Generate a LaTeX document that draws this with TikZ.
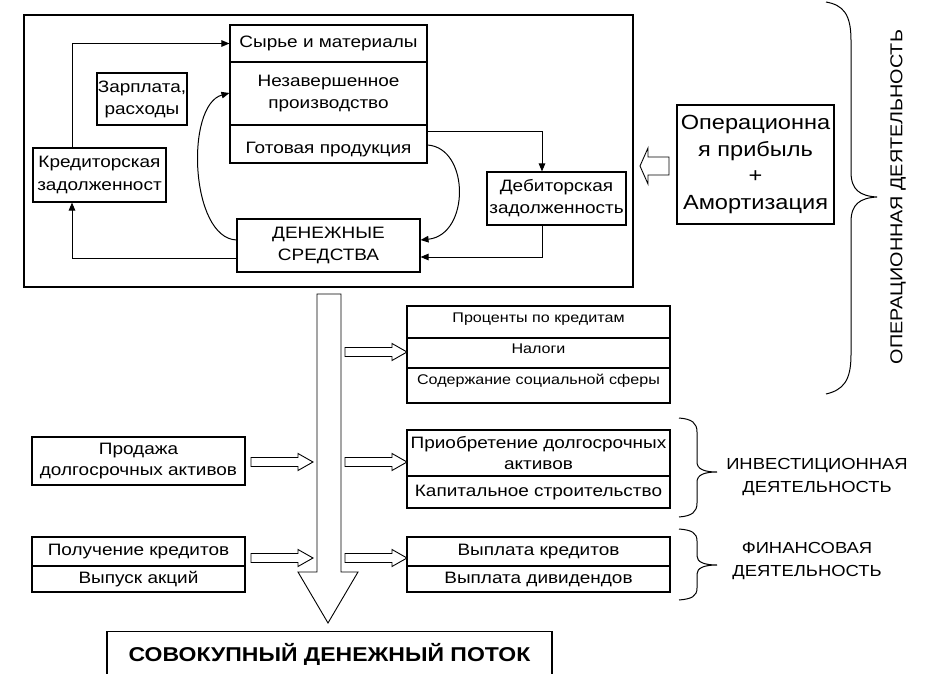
\documentclass[tikz,border=0pt]{standalone}
\usepackage{fontspec}
\setmainfont[FakeStretch=1.15]{Liberation Sans}
\usetikzlibrary{arrows.meta,calc}
\newcommand{\fs}[2]{\fontsize{#1}{#2}\selectfont}
\tikzset{
  box/.style={draw, line width=1.1pt, inner sep=0pt, align=center, font=\fs{16.5}{22}},
  one/.style={text height=12pt, text depth=3.5pt},
  cell/.style={box, minimum width=263pt},
  lcell/.style={box, minimum width=213pt},
  conn/.style={line width=1pt, -{Triangle[length=8pt,width=6.5pt]}},
  hollow/.style={draw, line width=0.9pt, fill=white},
  brace/.style={line width=1pt},
  lab/.style={align=center, font=\fs{16}{23.5}, inner sep=0pt}
}
\begin{document}
\begin{tikzpicture}[x=1pt,y=-1pt]
\useasboundingbox (0,0) rectangle (940,674);
% frame
\draw[line width=1.2pt] (24,15) rectangle (633,287);
% top stack
\node[box, one, minimum width=197pt, minimum height=37pt] (raw) at (328.5,43.5) {Сырье и материалы};
\node[box, minimum width=197pt, minimum height=63pt] (wip) at (328.5,93.5) {Незавершенное\\производство};
\node[box, one, minimum width=197pt, minimum height=38pt] (fin) at (328.5,144) {\raisebox{-5pt}{Готовая продукция}};
\node[box, minimum width=90pt, minimum height=52pt] (zp) at (142,99) {Зарплата,\\расходы};
\node[box, minimum width=133pt, minimum height=54pt, font=\fs{16.5}{23}] (kred) at (99.5,175) {Кредиторская\\задолженност};
\node[box, minimum width=183pt, minimum height=53pt] (den) at (328.5,245.5) {ДЕНЕЖНЫЕ\\СРЕДСТВА};
\node[box, minimum width=139pt, minimum height=53pt] (deb) at (556.5,198.5) {Дебиторская\\задолженность};
\node[box, minimum width=157pt, minimum height=119pt, font=\fs{20.5}{26.5}] (op) at (755.5,164.5) {Операционна\\я прибыль\\+\\Амортизация};
% connectors
\draw[conn] ([xshift=-27.5pt]kred.north) |- (raw.west);
\draw[conn] ([yshift=-12.5pt]den.west) -| ([xshift=-27.5pt]kred.south);
\draw[conn] ([yshift=-7pt]fin.north east) -| ([xshift=-14.5pt]deb.north);
\draw[conn] ([xshift=-14.5pt]deb.south) |- ([yshift=-11.5pt]den.east);
\draw[conn] ([yshift=5.5pt]den.west) .. controls (190,238) and (185,105) .. ([yshift=0.5pt]wip.west);
\draw[conn] ([yshift=-1pt]fin.east) .. controls (470,148) and (470,235) .. ([yshift=5.5pt]den.east);
% hollow arrow left
\draw[hollow] (669,157) -- (648,157) -- (648,148) -- (640,166) -- (648,184) -- (648,175) -- (669,175) -- cycle;
% big brace
\draw[brace] (826,2) .. controls (843,5) and (851,14) .. (851,40) -- (851,172) .. controls (851,190) and (860,196) .. (877,197) .. controls (860,198) and (851,204) .. (851,222) -- (851,355) .. controls (851,381) and (843,390) .. (826,394);
\node[lab, rotate=90, font=\fs{17.2}{20}] (oplab) at (898,197) {ОПЕРАЦИОННАЯ ДЕЯТЕЛЬНОСТЬ};
% big arrow
\draw[hollow] (317,294) -- (341,294) -- (341,572) -- (358,572) -- (328,623) -- (298,572) -- (317,572) -- cycle;
% right boxes
\node[cell, one, minimum height=32pt, font=\fs{14}{17}] (r1) at (538.5,322) {\raisebox{4pt}{Проценты по кредитам}};
\node[cell, one, minimum height=30pt, font=\fs{14}{17}] (r2) at (538.5,353) {\raisebox{4pt}{Налоги}};
\node[cell, one, minimum height=35pt, font=\fs{14}{17}] (r3) at (538.5,385.5) {\raisebox{5pt}{Содержание социальной сферы}};
\node[cell, minimum height=46pt, font=\fs{16.5}{21}] (i1) at (538.5,453) {Приобретение долгосрочных\\активов};
\node[cell, one, minimum height=32pt] (i2) at (538.5,492) {Капитальное строительство};
\node[cell, one, minimum height=29pt] (f1) at (538.5,551.5) {Выплата кредитов};
\node[cell, one, minimum height=26pt] (f2) at (538.5,579) {Выплата дивидендов};
% left boxes
\node[lcell, minimum height=48pt, font=\fs{16.5}{21}] (sale) at (138.5,461) {Продажа\\долгосрочных активов};
\node[lcell, one, minimum height=29pt] (loan) at (138.5,551.5) {Получение кредитов};
\node[lcell, one, minimum height=26pt] (shares) at (138.5,579) {Выпуск акций};
% small hollow arrows
\foreach \y in {352,462,558} {
  \draw[hollow] (345,\y-4.5) -- (392,\y-4.5) -- (392,\y-8.5) -- (407,\y) -- (392,\y+8.5) -- (392,\y+4.5) -- (345,\y+4.5) -- cycle;
}
\foreach \y in {462,558} {
  \draw[hollow] (251,\y-4.5) -- (298,\y-4.5) -- (298,\y-8.5) -- (313,\y) -- (298,\y+8.5) -- (298,\y+4.5) -- (251,\y+4.5) -- cycle;
}
% braces
\draw[brace] (679,418) .. controls (692,419) and (697,423) .. (697,432) -- (697,462) .. controls (697,469) and (704,472) .. (717,472) .. controls (704,472) and (697,475) .. (697,482) -- (697,503) .. controls (697,512) and (692,516) .. (679,517);
\draw[brace] (679,529) .. controls (692,530) and (697,533) .. (697,541) -- (697,556) .. controls (697,562) and (704,565) .. (717,565) .. controls (704,565) and (697,568) .. (697,574) -- (697,588) .. controls (697,596) and (692,599) .. (679,600);
\node[lab] (inv) at (817,477) {ИНВЕСТИЦИОННАЯ\\ДЕЯТЕЛЬНОСТЬ};
\node[lab] (finlab) at (807,561) {ФИНАНСОВАЯ\\ДЕЯТЕЛЬНОСТЬ};
% bottom
\node[draw, line width=1.2pt, minimum width=445pt, minimum height=46pt, inner sep=0pt, font=\bfseries\fs{20}{24}, anchor=north] (total) at (329.5,631) {\raisebox{2pt}{СОВОКУПНЫЙ ДЕНЕЖНЫЙ ПОТОК}};
\end{tikzpicture}
\end{document}
